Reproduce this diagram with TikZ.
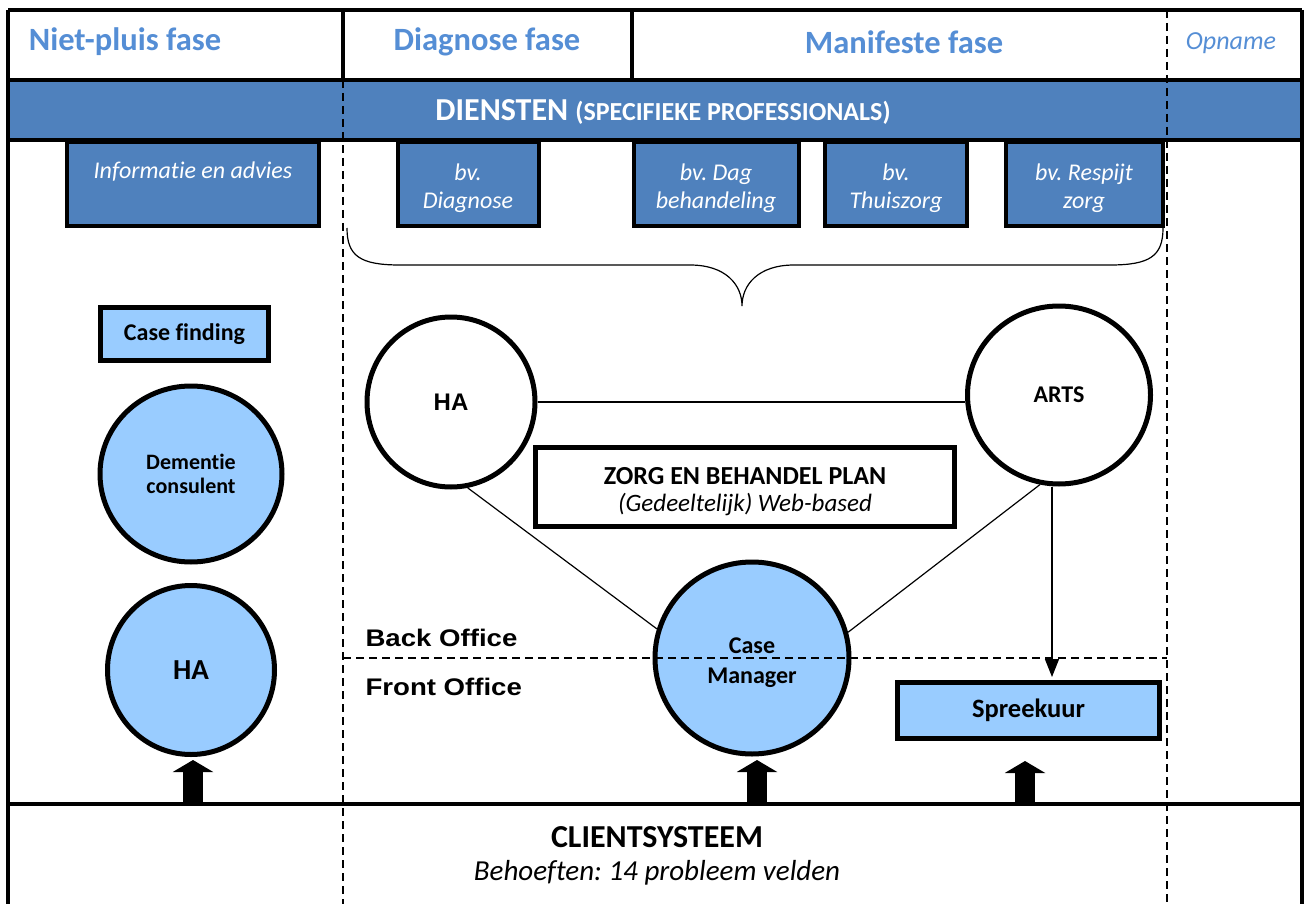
\documentclass[tikz,border=0pt]{standalone}
\usepackage{fontspec}
\setmainfont{Carlito}[Ligatures=NoCommon]
\newfontfamily\officefont{Liberation Sans}
\frenchspacing
\usetikzlibrary{shapes.geometric, arrows.meta, positioning}

\definecolor{fasetekst}{HTML}{558ED5}
\definecolor{dienstblauw}{HTML}{4F81BD}
\definecolor{lichtblauw}{HTML}{99CCFF}

\tikzset{
  kader/.style={line width=4pt},
  scheiding/.style={line width=1.5pt, dash pattern=on 8pt off 5pt},
  fase/.style={text=fasetekst, font=\fontsize{32.5}{38}\selectfont\bfseries},
  dienst/.style={draw, line width=4pt, fill=dienstblauw, text=white, align=center,
    font=\fontsize{24}{28}\selectfont\itshape, inner sep=0pt, minimum height=84pt,
    text height=54pt},
  rol/.style={ellipse, draw, line width=5pt, inner sep=0pt, align=center},
  blok/.style={draw, line width=5pt, inner sep=0pt, align=center},
  lijn/.style={line width=1.2pt},
  pijlblok/.style={line width=20pt, -{Triangle[width=40pt,length=12pt]}},
  office/.style={anchor=west, font=\officefont\fontsize{24}{28}\selectfont\bfseries},
}

\begin{document}
\begin{tikzpicture}[x=1pt, y=-1pt]
  \useasboundingbox (0,0) rectangle (1306,904);

  % kader en kolommen
  \coordinate (lb) at (8,10);
  \coordinate (rb) at (1302,10);
  \coordinate (k1) at (343,10);
  \coordinate (k2) at (632,10);
  \coordinate (k3) at (1167,10);
  \coordinate (bodem) at (8,804);

  \fill[dienstblauw] (8,80) rectangle (1302,140);
  \draw[kader] (lb) -- (rb)
    (8,80) -- (1302,80)
    (8,140) -- (1302,140)
    (lb) -- (8,904)
    (rb) -- (1302,904)
    (bodem) -- (1302,804)
    (k1) -- (343,80)
    (k2) -- (632,80);
  \draw[scheiding] (343,80) -- (343,904);
  \draw[scheiding] (k3) -- (1167,904);

  % fasen
  \node[fase] (niet) at (125,42) {Niet-pluis fase};
  \node[fase] (diag) at (487,42) {Diagnose fase};
  \node[fase] (mani) at (904,42) {Manifeste fase};
  \node[text=fasetekst, font=\fontsize{26}{30}\selectfont\itshape] (opname) at (1231,43) {Opname};

  % diensten
  \node[text=white, font=\fontsize{32}{38}\selectfont\bfseries] (diensten) at (663,112)
    {DIENSTEN {\fontsize{26}{30}\selectfont(SPECIFIEKE PROFESSIONALS)}};

  \node[dienst, minimum width=252pt] (info) at (193,184) {Informatie en advies\\\strut};
  \node[dienst, minimum width=141pt] (bvdiag) at (468,184) {bv.\\Diagnose};
  \node[dienst, minimum width=165pt] (bvdag) at (716,184) {bv. Dag\\behandeling};
  \node[dienst, minimum width=142pt] (bvthuis) at (896,184) {bv.\\Thuiszorg};
  \node[dienst, minimum width=157pt] (bvrespijt) at (1084,184) {bv. Respijt\\zorg};

  % accolade
  \draw[lijn] (347,228) .. controls (347,256) and (360,265) .. (400,265) -- (690,265)
    .. controls (726,265) and (742,285) .. (742,306)
    .. controls (742,285) and (758,265) .. (794,265) -- (1110,265)
    .. controls (1150,265) and (1163,256) .. (1163,228);

  % niet-pluis kolom
  \node[blok, fill=lichtblauw, minimum width=168pt, minimum height=53pt,
    font=\fontsize{24}{28}\selectfont\bfseries] (casefind) at (184.5,334) {Case finding};
  \node[rol, fill=lichtblauw, minimum width=182pt, minimum height=176pt,
    font=\fontsize{22}{24}\selectfont\bfseries] (dementie) at (191,474) {Dementie\\consulent};
  \node[rol, fill=lichtblauw, minimum width=167pt, minimum height=169pt,
    font=\fontsize{29}{32}\selectfont\bfseries] (ha1) at (191,670) {HA};

  % midden
  \node[rol, fill=white, minimum width=168pt, minimum height=170pt,
    font=\officefont\fontsize{24}{28}\selectfont\bfseries] (ha2) at (451,402) {HA};
  \node[rol, fill=white, minimum width=183pt, minimum height=178pt,
    font=\fontsize{24}{28}\selectfont\bfseries] (arts) at (1059,395) {ARTS};
  \node[blok, fill=white, minimum width=419pt, minimum height=79pt, text height=53pt,
    font=\fontsize{26}{27}\selectfont] (plan) at (745,487)
    {\textbf{ZORG EN BEHANDEL PLAN}\\
     {\fontsize{25}{27}\selectfont\itshape (Gedeeltelijk) Web-based}};
  \node[rol, fill=lichtblauw, minimum width=194pt, minimum height=192pt, text height=55pt,
    font=\fontsize{24}{30}\selectfont\bfseries] (cm) at (752,658) {Case\\Manager};
  \node[blok, fill=lichtblauw, minimum width=262pt, minimum height=56pt,
    font=\fontsize{26.5}{30}\selectfont\bfseries] (spreek) at (1028.5,710.5) {Spreekuur};

  \draw[lijn] (ha2.east) -- (ha2.east -| arts.west);
  \draw[lijn] (ha2.-79.5) -- (cm.163.6);
  \draw[lijn] (arts.-102) -- (cm.15);
  \draw[lijn, -{Triangle[width=14pt,length=18pt]}, shorten >=3pt]
    ([xshift=-7pt]arts.south) -- ([xshift=-7pt]arts.south |- spreek.north);

  % back / front office
  \draw[scheiding] (343,658) -- (1167,658);
  \node[office] (back) at (362,638) {\scalebox{1.15}[1]{Back Office}};
  \node[office] (front) at (362,687) {\scalebox{1.15}[1]{Front Office}};

  % clientsysteem
  \node[font=\fontsize{32}{36}\selectfont\bfseries] (client) at (657,837) {CLIENTSYSTEEM};
  \node[font=\fontsize{29}{34}\selectfont\itshape] (behoefte) at (657,873) {Behoeften: 14 probleem velden};

  \draw[pijlblok] ([xshift=2pt]ha1.south |- bodem) -- ([xshift=2pt]ha1.south |- 0,760);
  \draw[pijlblok] ([xshift=5pt]cm.south |- bodem) -- ([xshift=5pt]cm.south |- 0,760);
  \draw[pijlblok] (spreek.south -| 1025,0) ++(0,63) -- ([yshift=-20pt]spreek.south -| 1025,0);
\end{tikzpicture}
\end{document}
